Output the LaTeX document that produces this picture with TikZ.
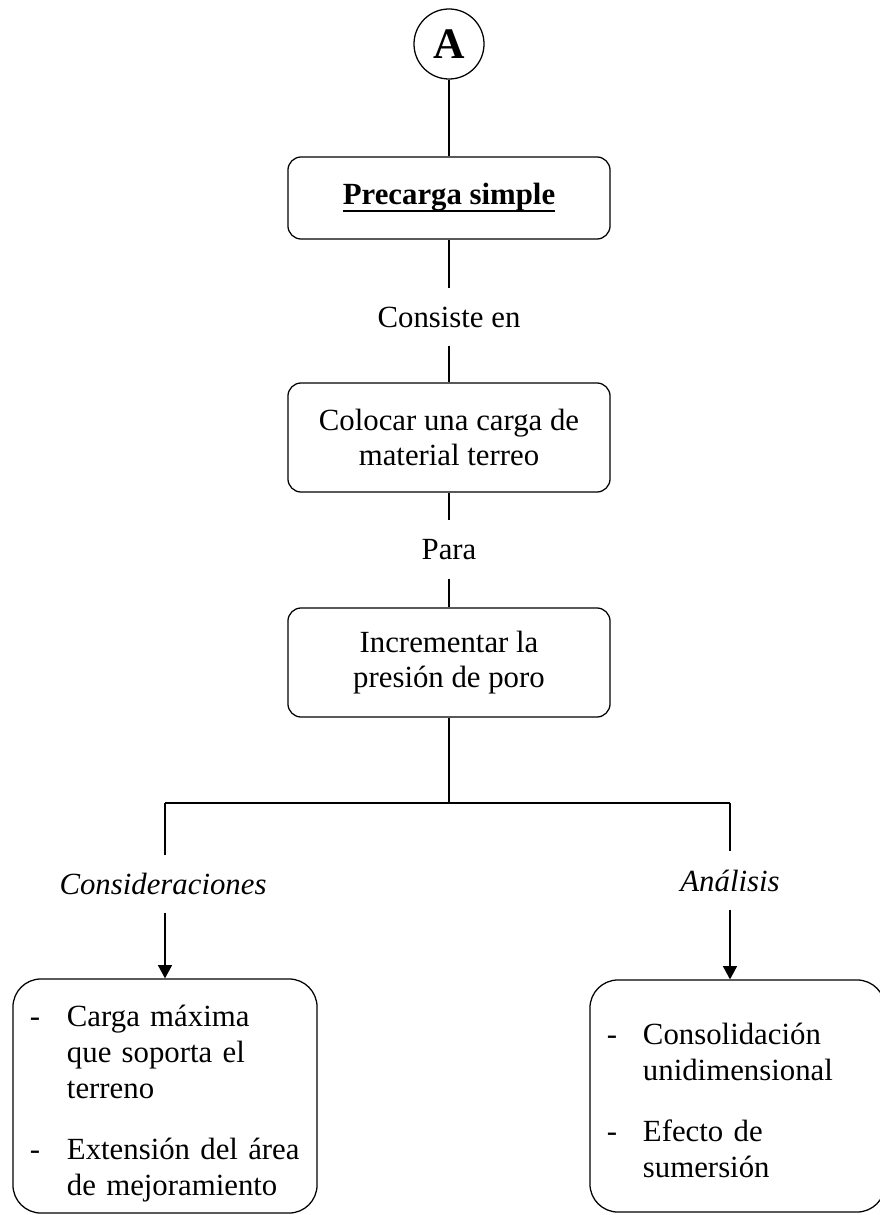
\documentclass[tikz,border=0pt]{standalone}
\usepackage{fontspec}
\setmainfont{Liberation Serif}
\usetikzlibrary{arrows.meta}

\newcommand\letra{\fontsize{21.9}{25.4}\selectfont}
\newlength\subrayalen
\newcommand\subraya[1]{\settowidth{\subrayalen}{#1}\rlap{\rule[-0.19cm]{\subrayalen}{0.06cm}}#1}

\begin{document}
\begin{tikzpicture}[x=0.025cm, y=-0.025cm, line width=0.9pt, font=\letra,
    caja/.style={draw, rounded corners=0.33cm, minimum width=8.05cm, align=center, inner sep=0pt},
    etiqueta/.style={inner sep=0pt, minimum height=1.4cm},
    lista/.style={draw, rounded corners=0.7cm, align=left, inner xsep=0.425cm, inner ysep=0pt, minimum height=5.85cm},
    flecha/.style={-{Triangle[width=0.35cm,length=0.33cm]}}]

        \useasboundingbox (0,0) rectangle (880,1215);

        % Connector A
        \node[draw, circle, minimum size=1.75cm, inner sep=0pt, font=\fontsize{31}{33}\selectfont\bfseries] (A) at (449,44) {A};

        % Main chain
        \node[caja, minimum height=2.05cm, font=\letra\bfseries] (precarga) at (449,198) {\subraya{Precarga simple}};
        \node[etiqueta] (consiste) at (449,317) {Consiste en};
        \node[caja, minimum height=2.725cm] (colocar) at (449,437.5) {Colocar una carga de\\material terreo};
        \node[etiqueta, minimum height=1.425cm] (para) at (449,549.5) {Para};
        \node[caja, minimum height=2.725cm] (incrementar) at (449,662.5) {Incrementar la\\presi\'on de poro};

        % Branching bar
        \coordinate (ramaC) at (449,803);
        \coordinate (ramaI) at (165,803);
        \coordinate (ramaD) at (730,803);

        % Branch labels
        \node[etiqueta, font=\letra\itshape] (consideraciones) at (163,884) {Consideraciones};
        \node[etiqueta, minimum height=1.425cm, font=\letra\itshape] (analisis) at (730,880.5) {Análisis};

        % Lists
        \node[lista, text width=6.75cm] (listaI) at (165,1096) {%
            \begin{tabular}{@{}p{0.925cm}@{}l@{}}
            \rule{0pt}{29pt}- & Carga máxima\\
              & que soporta el\\
              & terreno\\[18pt]
            - & Extensión del área\\
              & de mejoramiento
            \end{tabular}};
        \node[lista, text width=6.525cm, minimum height=5.8cm] (listaD) at (737.5,1096) {%
            \begin{tabular}{@{}p{0.9cm}@{}l@{}}
            \rule{0pt}{29pt}- & Consolidación\\
              & unidimensional\\[18pt]
            - & Efecto de\\
              & sumersión
            \end{tabular}};

        % Connectors
        \draw (A) -- (precarga);
        \draw (precarga) -- (consiste);
        \draw (consiste) -- (colocar);
        \draw (colocar) -- (para);
        \draw (para) -- (incrementar);
        \draw (incrementar) -- (ramaC);
        \draw (ramaI) -- (ramaD);
        \draw (ramaI) -- (ramaI |- consideraciones.north);
        \draw (ramaD) -- (analisis);
        \draw[flecha] (consideraciones.south -| ramaI) -- (ramaI |- listaI.north);
        \draw[flecha] (analisis) -- (analisis |- listaD.north);

\end{tikzpicture}
\end{document}
